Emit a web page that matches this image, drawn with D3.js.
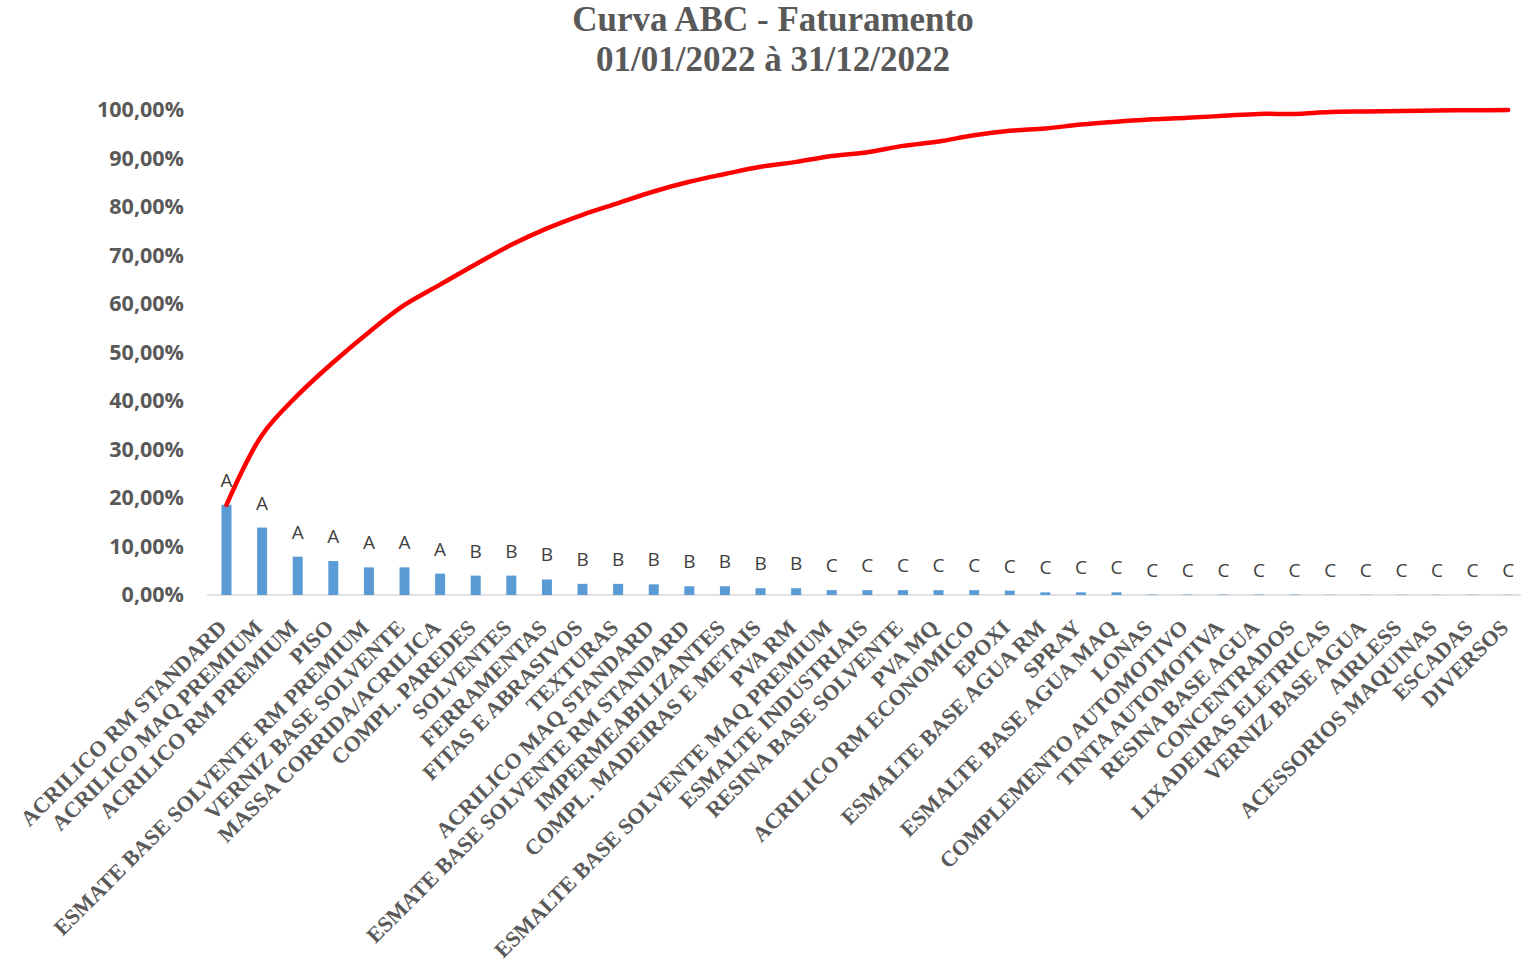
<!DOCTYPE html>
<html>
<head>
<meta charset="utf-8">
<script src="https://cdn.jsdelivr.net/npm/d3@7"></script>
<style>
  html, body { margin: 0; padding: 0; background: #fff; }
  svg { display: block; }
</style>
</head>
<body>
<svg id="chart" width="1521" height="968"></svg>
<script>
const titleLines = ["Curva ABC - Faturamento", "01/01/2022 à 31/12/2022"];

const categories = [
  "ACRILICO RM STANDARD", "ACRILICO MAQ PREMIUM", "ACRILICO RM PREMIUM", "PISO",
  "ESMATE BASE SOLVENTE RM PREMIUM", "VERNIZ BASE SOLVENTE", "MASSA CORRIDA/ACRILICA",
  "COMPL. PAREDES", "SOLVENTES", "FERRAMENTAS", "FITAS E ABRASIVOS", "TEXTURAS",
  "ACRILICO MAQ STANDARD", "ESMATE BASE SOLVENTE RM STANDARD", "IMPERMEABILIZANTES",
  "COMPL. MADEIRAS E METAIS", "PVA RM", "ESMALTE BASE SOLVENTE MAQ PREMIUM",
  "ESMALTE INDUSTRIAIS", "RESINA BASE SOLVENTE", "PVA MQ", "ACRILICO RM ECONOMICO",
  "EPOXI", "ESMALTE BASE AGUA RM", "SPRAY", "ESMALTE BASE AGUA MAQ", "LONAS",
  "COMPLEMENTO AUTOMOTIVO", "TINTA AUTOMOTIVA", "RESINA BASE AGUA", "CONCENTRADOS",
  "LIXADEIRAS ELETRICAS", "VERNIZ BASE AGUA", "AIRLESS", "ACESSORIOS MAQUINAS",
  "ESCADAS", "DIVERSOS"
];

// share of revenue per category (fraction)
const shareValues = [
  0.186, 0.139, 0.079, 0.070, 0.057, 0.057, 0.044, 0.040, 0.040, 0.032,
  0.023, 0.023, 0.022, 0.018, 0.018, 0.014, 0.014, 0.010, 0.010, 0.010,
  0.010, 0.010, 0.009, 0.0055, 0.0055, 0.0055, 0.001, 0.001, 0.001, 0.001,
  0.001, 0.0005, 0.0005, 0.0005, 0.0005, 0.0005, 0.0005
];

// cumulative share (fraction)
const cumulativeValues = [
  0.186, 0.330, 0.412, 0.480, 0.542, 0.598, 0.640, 0.682, 0.722, 0.756,
  0.784, 0.808, 0.832, 0.852, 0.868, 0.883, 0.893, 0.905, 0.913, 0.926,
  0.935, 0.948, 0.957, 0.962, 0.970, 0.976, 0.981, 0.984, 0.988, 0.992,
  0.992, 0.996, 0.997, 0.998, 0.999, 0.9995, 1.000
];

const classLabels = [
  "A","A","A","A","A","A","A",
  "B","B","B","B","B","B","B","B","B","B",
  "C","C","C","C","C","C","C","C","C","C","C","C","C","C","C","C","C","C","C","C"
];

const yTicks = [0, 0.1, 0.2, 0.3, 0.4, 0.5, 0.6, 0.7, 0.8, 0.9, 1.0];

const svg = d3.select("#chart");
const grey = "#595959";

const x = d3.scalePoint().domain(categories).range([208.7, 1526]).padding(0.5);
const y = d3.scaleLinear().domain([0, 1]).range([595, 110]);

// Title
svg.append("g").selectAll("text").data(titleLines).join("text")
  .attr("x", 773)
  .attr("y", (d, i) => 31 + i * 40)
  .attr("text-anchor", "middle")
  .attr("font-family", "'Liberation Serif', 'Times New Roman', serif")
  .attr("font-weight", "bold")
  .attr("font-size", 35)
  .attr("fill", grey)
  .text(d => d);

// Y axis
const fmt = d => (d * 100).toFixed(2).replace(".", ",") + "%";
const yAxis = svg.append("g")
  .attr("transform", "translate(184,0)")
  .call(d3.axisLeft(y).tickValues(yTicks).tickFormat(fmt).tickSize(0).tickPadding(0));
yAxis.select(".domain").remove();
yAxis.selectAll("text")
  .attr("font-family", "'Open Sans', sans-serif")
  .attr("font-weight", "bold")
  .attr("font-size", 21.5)
  .attr("fill", grey);

// X axis
const xAxis = svg.append("g")
  .attr("transform", "translate(0,595)")
  .call(d3.axisBottom(x).tickSize(0).tickPadding(0));
xAxis.select(".domain").attr("stroke", "#d9d9d9").attr("stroke-width", 1.5)
  .attr("d", "M207,0H1521");
xAxis.selectAll(".tick text")
  .attr("font-family", "'Liberation Serif', 'Times New Roman', serif")
  .attr("font-weight", "bold")
  .attr("font-size", 22)
  .attr("fill", grey)
  .attr("text-anchor", "end")
  .attr("dy", 0)
  .attr("y", 0)
  .attr("transform", "translate(1,34) rotate(-45)");

// Bars
const barW = 10;
svg.append("g").selectAll("rect").data(categories).join("rect")
  .attr("x", d => x(d) - barW / 2)
  .attr("y", (d, i) => y(shareValues[i]))
  .attr("width", barW)
  .attr("height", (d, i) => y(0) - y(shareValues[i]))
  .attr("fill", "#5B9BD5");

// Cumulative line
const line = d3.line()
  .x((d, i) => x(categories[i]))
  .y(d => y(d))
  .curve(d3.curveCatmullRom.alpha(0.5));
svg.append("path")
  .datum(cumulativeValues)
  .attr("d", line)
  .attr("fill", "none")
  .attr("stroke", "#FF0000")
  .attr("stroke-width", 4.5)
  .attr("stroke-linejoin", "round")
  .attr("stroke-linecap", "round");

// Class labels
svg.append("g").selectAll("text").data(categories).join("text")
  .attr("x", d => x(d))
  .attr("y", (d, i) => y(shareValues[i]) - 18)
  .attr("text-anchor", "middle")
  .attr("font-family", "'Open Sans', sans-serif")
  .attr("font-size", 19)
  .attr("fill", "#404040")
  .text((d, i) => classLabels[i]);
</script>
</body>
</html>
